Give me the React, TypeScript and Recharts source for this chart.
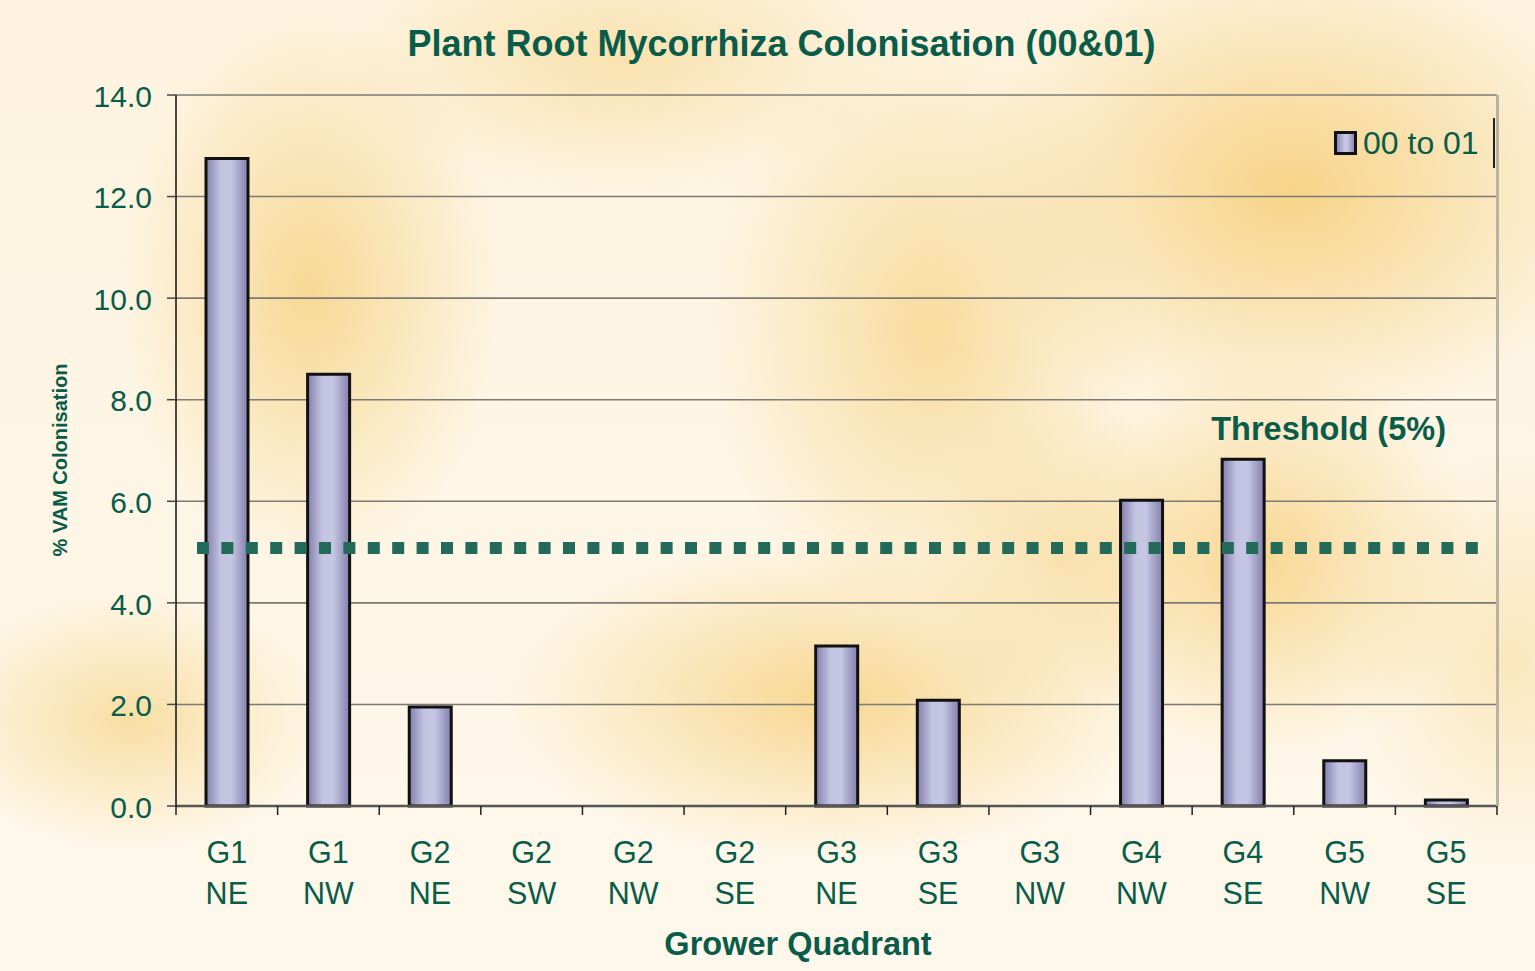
import { Bar, BarChart, CartesianGrid, ReferenceLine, XAxis, YAxis } from "recharts";

const categories = [
  "G1 NE", "G1 NW", "G2 NE", "G2 SW", "G2 NW", "G2 SE", "G3 NE",
  "G3 SE", "G3 NW", "G4 NW", "G4 SE", "G5 NW", "G5 SE",
];
const colonisation = [12.75, 8.5, 1.95, 0, 0, 0, 3.15, 2.08, 0, 6.02, 6.83, 0.89, 0.12];
const yTicks = [0, 2, 4, 6, 8, 10, 12, 14];
const threshold = 5.08;
const seriesName = "00 to 01";

const W = 1535;
const H = 971;
const PLOT_LEFT = 176;
const PLOT_RIGHT = 1497;
const PLOT_TOP = 95;
const PLOT_BOTTOM = 806;
const BAND = (PLOT_RIGHT - PLOT_LEFT) / categories.length;

const GREEN = "#0a5c4a";
const FONT = "'Liberation Sans', Arial, sans-serif";

const data = categories.map((c, i) => ({ name: c, value: colonisation[i] }));

// soft yellow blotches standing in for the mottled slide background
const background = [
  "radial-gradient(ellipse 190px 280px at 310px 290px, rgba(246,212,135,0.85), rgba(246,214,140,0) 100%)",
  "radial-gradient(ellipse 200px 130px at 130px 720px, rgba(246,212,135,0.7), rgba(246,214,140,0) 100%)",
  "radial-gradient(ellipse 330px 160px at 830px 700px, rgba(246,208,125,0.8), rgba(246,214,140,0) 100%)",
  "radial-gradient(ellipse 220px 300px at 930px 330px, rgba(246,212,135,0.75), rgba(246,214,140,0) 100%)",
  "radial-gradient(ellipse 330px 240px at 1290px 190px, rgba(246,208,125,0.9), rgba(246,214,140,0) 100%)",
  "radial-gradient(ellipse 220px 200px at 1260px 560px, rgba(246,208,125,0.8), rgba(246,214,140,0) 100%)",
  "radial-gradient(ellipse 280px 130px at 620px 60px, rgba(246,212,135,0.55), rgba(246,214,140,0) 100%)",
  "radial-gradient(ellipse 160px 210px at 1510px 660px, rgba(246,212,135,0.45), rgba(246,214,140,0) 100%)",
  "radial-gradient(ellipse 140px 160px at 1060px 560px, rgba(246,212,135,0.55), rgba(246,214,140,0) 100%)",
  "linear-gradient(#fdf3df, #fef8ec)",
].join(", ");

function XTick({ x, y, payload, index }: any) {
  const [g, q] = String(payload.value).split(" ");
  const last = index === categories.length - 1;
  return (
    <g>
      <line x1={x - BAND / 2} y1={y} x2={x - BAND / 2} y2={y + 9} stroke="#222" strokeWidth={1.5} />
      {last && <line x1={x + BAND / 2} y1={y} x2={x + BAND / 2} y2={y + 9} stroke="#222" strokeWidth={1.5} />}
      <text x={x} y={y + 57} textAnchor="middle" fill={GREEN} fontSize={30.5} fontFamily={FONT}>
        {g}
      </text>
      <text x={x} y={y + 98} textAnchor="middle" fill={GREEN} fontSize={30.5} fontFamily={FONT}>
        {q}
      </text>
    </g>
  );
}

function ThresholdShape(props: any) {
  const { x1, y1, x2 } = props;
  return (
    <g>
      <line
        x1={x1 + 21}
        y1={y1}
        x2={x2 - 19}
        y2={y1}
        stroke="#236a5a"
        strokeWidth={12}
        strokeDasharray="12 12.4"
      />
      <text x={x2 - 51} y={y1 - 108} textAnchor="end" fill={GREEN} fontSize={32.5} fontWeight="bold" fontFamily={FONT}>
        Threshold (5%)
      </text>
    </g>
  );
}

function LegendBox() {
  return (
    <div
      style={{
        position: "absolute",
        left: 1334,
        top: 118,
        display: "flex",
        alignItems: "center",
        height: 50,
        paddingRight: 14,
        borderRight: "2px solid #222",
        fontFamily: FONT,
      }}
    >
      <div
        style={{
          width: 17,
          height: 18,
          border: "3px solid #111",
          background: "linear-gradient(90deg, #8d89b6, #c6c7e4 45%, #c6c7e4 60%, #8d89b6)",
          marginRight: 6,
        }}
      />
      <span style={{ color: GREEN, fontSize: 32 }}>{seriesName}</span>
    </div>
  );
}

export default function App() {
  return (
    <div
      style={{
        position: "absolute",
        left: 0,
        top: 0,
        width: W,
        height: H,
        background,
        fontFamily: FONT,
      }}
    >
      <div
        style={{
          position: "absolute",
          top: 23,
          left: 0,
          width: 1563,
          textAlign: "center",
          color: GREEN,
          fontSize: 36,
          fontWeight: "bold",
        }}
      >
        Plant Root Mycorrhiza Colonisation (00&amp;01)
      </div>
      <div
        style={{
          position: "absolute",
          left: 60,
          top: 460,
          transform: "translate(-50%, -50%) rotate(-90deg)",
          color: GREEN,
          fontSize: 20,
          fontWeight: "bold",
          whiteSpace: "nowrap",
        }}
      >
        % VAM Colonisation
      </div>
      <div
        style={{
          position: "absolute",
          top: 926,
          left: 0,
          width: 1596,
          textAlign: "center",
          color: GREEN,
          fontSize: 32.5,
          fontWeight: "bold",
        }}
      >
        Grower Quadrant
      </div>
      <BarChart
        width={W}
        height={H}
        data={data}
        margin={{ top: PLOT_TOP, left: PLOT_LEFT - 80, right: W - PLOT_RIGHT, bottom: H - PLOT_BOTTOM - 120 }}
        barSize={42}
        style={{ position: "absolute", left: 0, top: 0 }}
      >
        <defs>
          <linearGradient id="barFill" x1="0" y1="0" x2="1" y2="0">
            <stop offset="0%" stopColor="#837fac" />
            <stop offset="35%" stopColor="#c3c4e2" />
            <stop offset="60%" stopColor="#c6c7e4" />
            <stop offset="100%" stopColor="#837fac" />
          </linearGradient>
        </defs>
        <CartesianGrid vertical={false} stroke="#7c7a74" strokeWidth={1.6} />
        <XAxis
          dataKey="name"
          height={120}
          tickLine={false}
          tickSize={0}
          tickMargin={0}
          interval={0}
          tick={<XTick />}
          axisLine={{ stroke: "#555", strokeWidth: 2.5 }}
        />
        <YAxis
          width={80}
          domain={[0, 14]}
          ticks={yTicks}
          tickFormatter={(v: number) => v.toFixed(1)}
          tickSize={9}
          tickMargin={15}
          tickLine={{ stroke: "#444", strokeWidth: 1.5 }}
          axisLine={{ stroke: "#111", strokeWidth: 1.5 }}
          tick={{ fill: GREEN, fontSize: 30, fontFamily: FONT, dy: 1 }}
        />
        <Bar dataKey="value" fill="url(#barFill)" stroke="#111" strokeWidth={3} isAnimationActive={false} />
        <ReferenceLine y={threshold} shape={<ThresholdShape />} />
        <ReferenceLine x={categories[categories.length - 1]} stroke="none" />
      </BarChart>
      <div
        style={{
          position: "absolute",
          left: PLOT_RIGHT - 1.5,
          top: PLOT_TOP,
          width: 3,
          height: PLOT_BOTTOM - PLOT_TOP,
          background: "#b8b2a6",
        }}
      />
      <LegendBox />
    </div>
  );
}
